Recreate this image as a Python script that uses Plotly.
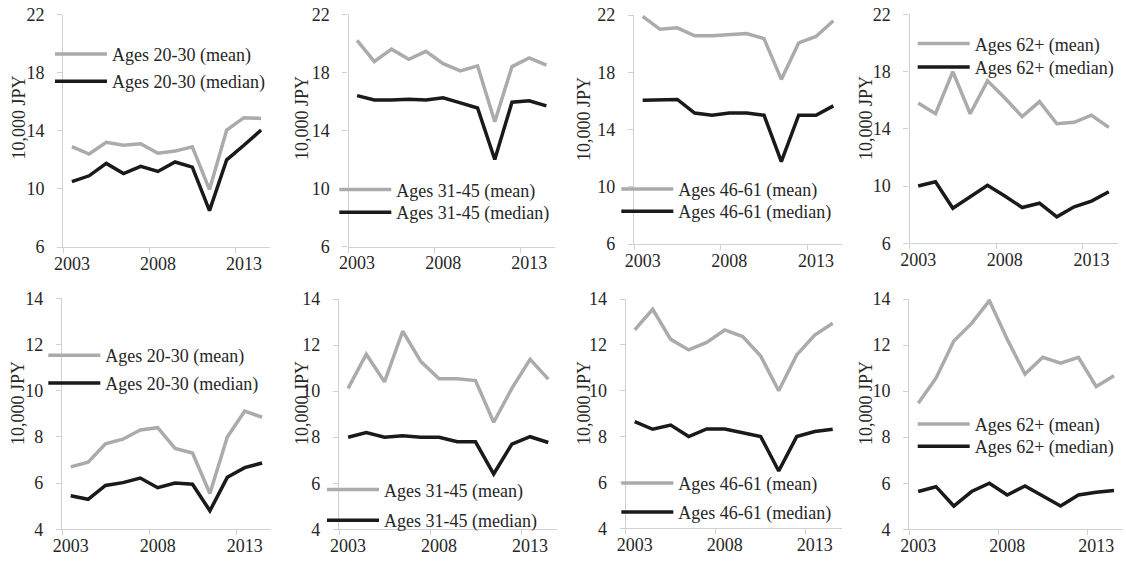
import plotly.graph_objects as go

W, H = 1126, 567

years = list(range(2003, 2015))
groups = ["Ages 20-30", "Ages 31-45", "Ages 46-61", "Ages 62+"]

# Top row
top_mean_20_30 = [12.9, 12.4, 13.2, 13.0, 13.1, 12.45, 12.6, 12.9, 9.95, 14.05, 14.9, 14.85]
top_median_20_30 = [10.5, 10.9, 11.75, 11.05, 11.55, 11.2, 11.85, 11.5, 8.5, 12.0, 13.0, 14.05]
top_mean_31_45 = [20.2, 18.75, 19.6, 18.9, 19.45, 18.6, 18.1, 18.45, 14.6, 18.4, 19.0, 18.5]
top_median_31_45 = [16.4, 16.1, 16.1, 16.15, 16.1, 16.25, 15.9, 15.55, 12.0, 15.95, 16.05, 15.7]
top_mean_46_61 = [21.9, 21.0, 21.1, 20.55, 20.55, 20.65, 20.7, 20.35, 17.5, 20.05, 20.5, 21.6]
top_median_46_61 = [16.05, 16.05, 16.1, 15.15, 15.0, 15.15, 15.15, 15.0, 11.75, 15.0, 15.0, 15.65]
top_mean_62 = [15.8, 15.05, 18.0, 15.05, 17.35, 16.15, 14.85, 15.9, 14.35, 14.45, 14.95, 14.1]
top_median_62 = [10.0, 10.3, 8.45, 9.25, 10.05, 9.3, 8.5, 8.8, 7.85, 8.55, 8.95, 9.6]

# Bottom row
bot_mean_20_30 = [6.7, 6.9, 7.7, 7.9, 8.3, 8.4, 7.5, 7.3, 5.55, 8.0, 9.12, 8.85]
bot_median_20_30 = [5.45, 5.3, 5.9, 6.02, 6.22, 5.8, 6.0, 5.95, 4.8, 6.25, 6.67, 6.87]
bot_mean_31_45 = [10.12, 11.6, 10.4, 12.6, 11.28, 10.54, 10.54, 10.46, 8.65, 10.12, 11.38, 10.52]
bot_median_31_45 = [8.0, 8.2, 8.0, 8.06, 8.0, 8.0, 7.8, 7.8, 6.4, 7.7, 8.02, 7.77]
bot_mean_46_61 = [12.65, 13.55, 12.24, 11.78, 12.11, 12.65, 12.36, 11.51, 10.0, 11.56, 12.43, 12.94]
bot_median_46_61 = [8.65, 8.32, 8.5, 8.0, 8.33, 8.33, 8.17, 8.0, 6.5, 8.0, 8.22, 8.32]
bot_mean_62 = [9.47, 10.56, 12.18, 12.94, 13.93, 12.25, 10.74, 11.47, 11.21, 11.47, 10.2, 10.67]
bot_median_62 = [5.64, 5.85, 5.01, 5.64, 6.0, 5.49, 5.88, 5.45, 5.01, 5.49, 5.61, 5.68]

top_ticks = [6, 10, 14, 18, 22]
bot_ticks = [4, 6, 8, 10, 12, 14]
x_labels = [2003, 2008, 2013]
y_title = "10,000 JPY"

panels = [
    # (mean, median, group, yticks, xdomain px, ydomain px (top,bottom), legend line start x, legend y mean, legend y median, title x, title y)
    (top_mean_20_30, top_median_20_30, groups[0], top_ticks, (63.3, 269.7), (14.5, 247), 55, 52.7, 80, 18, 117.5),
    (top_mean_31_45, top_median_31_45, groups[1], top_ticks, (348.5, 555), (14.3, 246.7), 339.3, 188.3, 211, 302, 118),
    (top_mean_46_61, top_median_46_61, groups[2], top_ticks, (634, 842), (15, 244), 621.3, 187.7, 210, 584, 119),
    (top_mean_62, top_median_62, groups[3], top_ticks, (909.5, 1117.5), (14.3, 243.3), 917.7, 42.3, 65.7, 866, 118),
    (bot_mean_20_30, bot_median_20_30, groups[0], bot_ticks, (62, 270.8), (298.3, 529.3), 48.3, 354, 381.7, 18, 403),
    (bot_mean_31_45, bot_median_31_45, groups[1], bot_ticks, (339, 557.4), (299, 529.3), 327, 488.3, 519, 302, 403),
    (bot_mean_46_61, bot_median_46_61, groups[2], bot_ticks, (625.7, 841.7), (299, 528.3), 621.3, 481.7, 510.7, 584, 403),
    (bot_mean_62, bot_median_62, groups[3], bot_ticks, (909.3, 1122.9), (299, 529.3), 917.7, 422.7, 445, 866, 403),
]

GRAY = "#ABABAB"
BLACK = "#1A1A1A"
AXIS = "#D0D0D0"
TEXT = "#262626"
FONT = "Liberation Serif, Times New Roman, Times, serif"

fig = go.Figure()
layout = dict(
    width=W, height=H,
    margin=dict(l=0, r=0, t=0, b=0, autoexpand=False),
    paper_bgcolor="white", plot_bgcolor="white",
    font=dict(family=FONT, size=18, color=TEXT),
    showlegend=True,
)
annotations = []
legend_idx = 1
for i, (mean, median, grp, yt, xd, yd, lx, ly1, ly2, tx, ty) in enumerate(panels):
    n = i + 1
    xa = "x" if n == 1 else f"x{n}"
    ya = "y" if n == 1 else f"y{n}"
    for vals, lab, col, ly in ((mean, f"{grp} (mean)", GRAY, ly1), (median, f"{grp} (median)", BLACK, ly2)):
        lname = "legend" if legend_idx == 1 else f"legend{legend_idx}"
        fig.add_trace(go.Scatter(
            x=years, y=vals, mode="lines", name=lab,
            line=dict(color=col, width=3.5),
            xaxis=xa, yaxis=ya, legend=lname, showlegend=True,
        ))
        layout[lname] = dict(
            x=(lx - 5) / W, y=1 - (ly + 1.5) / H, xanchor="left", yanchor="middle",
            xref="paper", yref="paper",
            bgcolor="rgba(0,0,0,0)", borderwidth=0,
            font=dict(family=FONT, size=18, color=TEXT),
            itemwidth=52,
        )
        legend_idx += 1
    xkey = "xaxis" if n == 1 else f"xaxis{n}"
    ykey = "yaxis" if n == 1 else f"yaxis{n}"
    layout[xkey] = dict(
        domain=[xd[0] / W, xd[1] / W], anchor=ya, automargin=False,
        range=[2002.5, 2014.5], tickvals=x_labels, ticktext=[str(v) for v in x_labels],
        ticks="", showgrid=False, zeroline=False,
        showline=True, linecolor=AXIS, linewidth=1.3,
        tickfont=dict(family=FONT, size=18, color=TEXT),
        minor=dict(tickvals=[2002.5, 2007.5, 2012.5], ticks="outside", ticklen=5, tickcolor=AXIS, tickwidth=1.3, showgrid=False),
        fixedrange=True,
    )
    layout[ykey] = dict(
        domain=[1 - yd[1] / H, 1 - yd[0] / H], anchor=xa, automargin=False,
        range=[yt[0], yt[-1]], tickvals=yt,
        ticks="outside", ticklen=5, tickcolor=AXIS, tickwidth=1.3,
        showgrid=False, zeroline=False,
        showline=True, linecolor=AXIS, linewidth=1.3,
        tickfont=dict(family=FONT, size=18, color=TEXT),
        ticklabelstandoff=9,
        fixedrange=True,
    )
    annotations.append(dict(
        text=y_title, x=tx / W, y=1 - ty / H, xref="paper", yref="paper",
        textangle=-90, showarrow=False, xanchor="center", yanchor="middle",
        font=dict(family=FONT, size=18, color=TEXT),
    ))

layout["annotations"] = annotations
fig.update_layout(**layout)
fig.write_html("out.html")
